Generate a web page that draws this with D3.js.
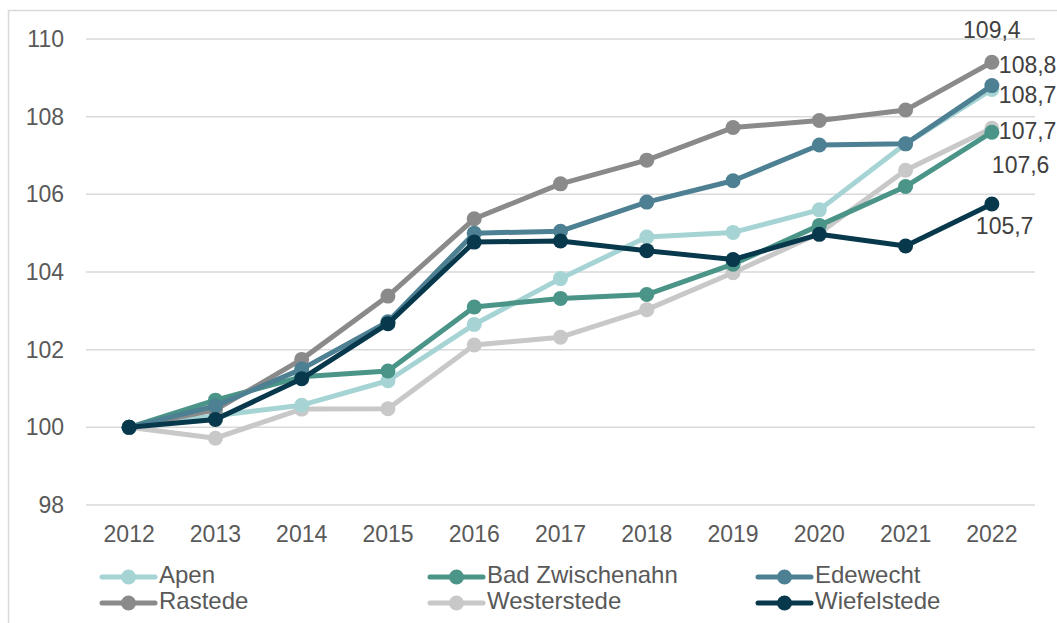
<!DOCTYPE html>
<html>
<head>
<meta charset="utf-8">
<script src="https://cdn.jsdelivr.net/npm/d3@7"></script>
<style>
  body { margin: 0; background: #fff; }
  svg { display: block; font-family: "Liberation Sans", Arial, sans-serif; }
</style>
</head>
<body>
<svg id="chart" width="1057" height="623"></svg>
<script>
// years on the x axis
const years = ["2012", "2013", "2014", "2015", "2016", "2017", "2018", "2019", "2020", "2021", "2022"];
const yTicks = [98, 100, 102, 104, 106, 108, 110];

// index values per municipality (2012 = 100)
const apen         = [100, 100.30, 100.57, 101.20, 102.65, 103.83, 104.90, 105.02, 105.60, 107.30, 108.70];
const badZwischen  = [100, 100.70, 101.30, 101.45, 103.10, 103.32, 103.42, 104.20, 105.20, 106.20, 107.60];
const edewecht     = [100, 100.55, 101.50, 102.72, 105.00, 105.05, 105.80, 106.35, 107.27, 107.30, 108.80];
const rastede      = [100, 100.45, 101.75, 103.38, 105.37, 106.27, 106.88, 107.72, 107.90, 108.17, 109.40];
const westerstede  = [100, 99.72, 100.47, 100.48, 102.12, 102.32, 103.03, 103.98, 105.00, 106.62, 107.70];
const wiefelstede  = [100, 100.20, 101.25, 102.67, 104.77, 104.80, 104.55, 104.32, 104.97, 104.67, 105.75];

const names = ["Apen", "Bad Zwischenahn", "Edewecht", "Rastede", "Westerstede", "Wiefelstede"];
const colors = ["#a6d4d4", "#4a9488", "#4e8093", "#8a8a8a", "#c8c8c8", "#08384b"];
const lastLabels = ["108,7", "107,6", "108,8", "109,4", "107,7", "105,7"];

const series = names.map((n, i) => ({
  name: n,
  color: colors[i],
  label: lastLabels[i],
  values: [apen, badZwischen, edewecht, rastede, westerstede, wiefelstede][i]
}));

// draw order: back to front
const drawOrder = ["Westerstede", "Apen", "Bad Zwischenahn", "Rastede", "Edewecht", "Wiefelstede"];

const svg = d3.select("#chart");
const margin = {left: 86, right: 22, top: 39, bottom: 118};
const width = 1057, height = 623;
const fontSize = 23;

const x = d3.scaleBand().domain(years).range([margin.left, width - margin.right]);
const y = d3.scaleLinear().domain([98, 110]).range([height - margin.bottom, margin.top]);
const cx = d => x(d) + x.bandwidth() / 2;

// outer frame
svg.append("path")
  .attr("d", "M8.5," + height + " V10.5 H" + width)
  .attr("fill", "none")
  .attr("stroke", "#d9d9d9")
  .attr("stroke-width", 1.5);

// gridlines
svg.append("g").selectAll("line")
  .data(yTicks)
  .join("line")
  .attr("x1", margin.left).attr("x2", width - margin.right)
  .attr("y1", d => y(d)).attr("y2", d => y(d))
  .attr("stroke", "#d9d9d9")
  .attr("stroke-width", 1.5);

// y axis labels
const yAxis = svg.append("g")
  .attr("transform", "translate(" + (margin.left - 22) + ",0)")
  .call(d3.axisLeft(y).tickValues(yTicks).tickSize(0).tickPadding(0).tickFormat(d3.format("d")));
yAxis.select(".domain").remove();
yAxis.selectAll("text").attr("font-size", fontSize).attr("fill", "#595959").attr("font-family", "Liberation Sans, Arial, sans-serif");

// x axis labels
const xAxis = svg.append("g")
  .attr("transform", "translate(0," + (height - margin.bottom + 21) + ")")
  .call(d3.axisBottom(x).tickSize(0).tickPadding(0));
xAxis.select(".domain").remove();
xAxis.selectAll("text").attr("font-size", fontSize).attr("fill", "#595959").attr("font-family", "Liberation Sans, Arial, sans-serif");

const line = d3.line().x((d, i) => cx(years[i])).y(d => y(d));

drawOrder.forEach(n => {
  const s = series.find(e => e.name === n);
  const g = svg.append("g");
  g.append("path")
    .attr("d", line(s.values))
    .attr("fill", "none")
    .attr("stroke", s.color)
    .attr("stroke-width", 5)
    .attr("stroke-linejoin", "round");
  g.selectAll("circle")
    .data(s.values)
    .join("circle")
    .attr("cx", (d, i) => cx(years[i]))
    .attr("cy", d => y(d))
    .attr("r", 7.5)
    .attr("fill", s.color);
});

// end labels (offsets from last point, like the excel data labels)
const labelOffsets = {
  "Rastede": [0, -30, "middle"],
  "Edewecht": [7, -19, "start"],
  "Apen": [7, 7, "start"],
  "Westerstede": [7, 5, "start"],
  "Bad Zwischenahn": [0, 35, "start"],
  "Wiefelstede": [-16, 24, "start"]
};
series.forEach(s => {
  const last = s.values[s.values.length - 1];
  const o = labelOffsets[s.name];
  svg.append("text")
    .attr("x", cx("2022") + o[0])
    .attr("y", y(last) + o[1])
    .attr("text-anchor", o[2])
    .attr("dominant-baseline", "middle")
    .attr("font-size", fontSize)
    .attr("fill", "#404040")
    .text(s.label);
});

// legend
const legendX = [102, 430, 758];
const legendY = [577, 603];
const legend = svg.append("g").selectAll("g")
  .data(series)
  .join("g")
  .attr("transform", (d, i) => "translate(" + legendX[i % 3] + "," + legendY[Math.floor(i / 3)] + ")");
legend.append("line")
  .attr("x1", 0).attr("x2", 53)
  .attr("stroke", d => d.color)
  .attr("stroke-width", 5)
  .attr("stroke-linecap", "round");
legend.append("circle")
  .attr("cx", 26.5).attr("r", 7.5)
  .attr("fill", d => d.color);
legend.append("text")
  .attr("x", 57)
  .attr("dominant-baseline", "middle")
  .attr("font-size", 24)
  .attr("fill", "#595959")
  .text(d => d.name);
</script>
</body>
</html>
